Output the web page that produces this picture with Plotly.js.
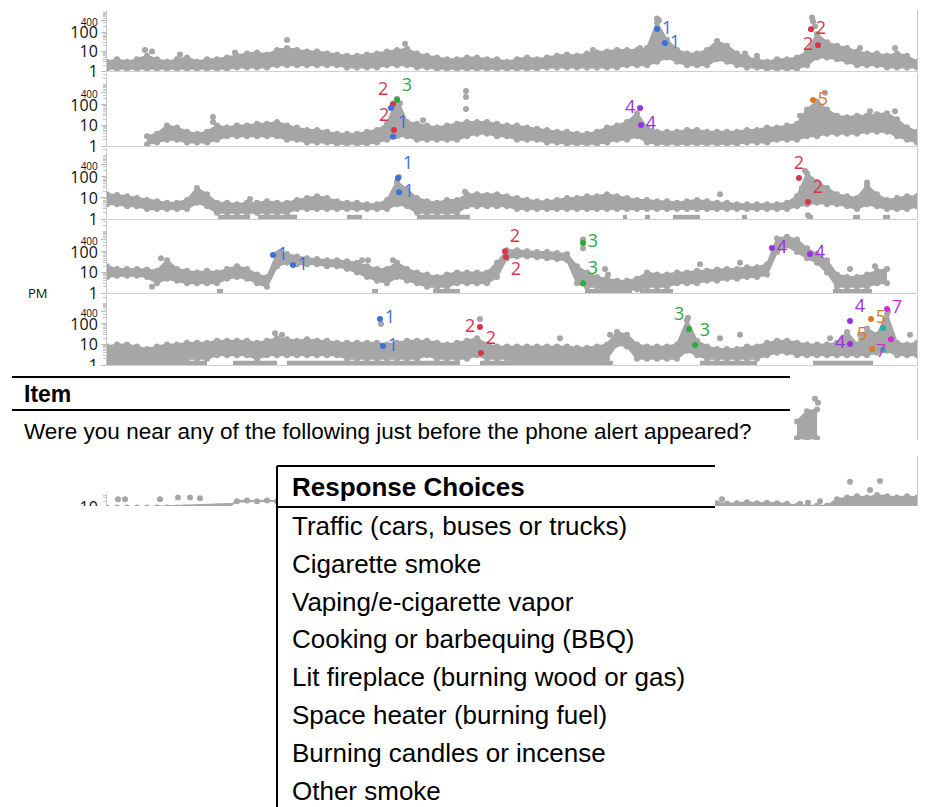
<!DOCTYPE html>
<html><head><meta charset="utf-8">
<script src="https://cdn.plot.ly/plotly-3.0.1.min.js"></script>
<style>html,body{margin:0;padding:0;background:#fff}#chart{width:927px;height:807px}</style>
</head><body><div id="chart"></div>
<script>
const N = null;
// ---- data: sample index = time step ----
const p1Hi = [3,4,3,4,6,4,3,4,5,3, 4,4,5,6,8,9,7,12,15,12, 10,10,8,7,6,6,7,8,10,12, 14,8,6,5,4,4,5,5,4,4, 3,4,5,4,5,6,7,6,8,9, 10,12,12,12,15,300,40,12,8,8, 12,35,20,8,5,4,3,4,4,5, 10,80,30,20,15,10,8,8,6,8, 6,3];
const p1Lo = [1.3,1.3,1.3,1.3,1.3,1.3,1.3,1.3,1.3,1.3, 1.3,1.3,1.3,1.5,1.5,1.5,1.5,2,2,2, 2,2,2,2,1.5,1.5,1.5,1.5,2,2, 2,1.5,1.5,1.3,1.3,1.3,1.3,1.3,1.3,1.3, 1.3,1.3,1.3,1.3,1.5,1.5,1.5,1.5,1.5,1.5, 1.5,1.5,2,2,2,3,5,3,2,2, 2,4,3,2,1.5,1.5,1.3,1.3,1.3,1.3, 2,5,5,4,3,2,2,2,1.5,1.5, 1.5,1.5];
const p2Hi = [N,N,N,N,3,4,10,8,5,4, 5,10,8,10,10,12,12,15,10,8, 6,6,5,4,4,4,5,6,12,200, 15,12,10,8,10,12,15,15,15,12, 10,10,8,7,6,5,5,4,4,5, 8,10,15,40,8,5,5,5,6,6, 5,5,5,5,6,6,8,8,10,12, 60,150,60,30,25,30,30,35,40,20, 8,5];
const p2Lo = [N,N,N,N,1.2,1.5,2,2,1.5,1.5, 1.5,2,3,3,3,3,3,3,2,2, 1.5,1.5,1.5,1.3,1.3,1.3,1.3,1.5,2,3, 3,2,2,2,2,2,3,4,4,3, 3,2,2,2,1.5,1.5,1.3,1.3,1.3,1.3, 1.5,2,2,3,1.5,1.3,1.3,1.3,1.3,1.3, 1.3,1.3,1.3,1.3,1.5,1.5,1.5,2,2,2, 3,3,4,4,4,4,5,5,5,3, 2,1.5];
const p3Hi = [15,14,12,10,8,7,6,6,8,30, 15,6,6,5,6,6,7,6,6,8, 10,12,10,7,6,6,5,5,8,60, 25,10,7,6,8,8,15,15,14,15, 12,10,8,7,7,8,10,10,12,12, 15,12,10,8,8,7,7,6,7,8, 7,6,6,5,5,5,5,5,6,12, 150,60,30,15,12,10,40,15,8,10, 12,12];
const p3Lo = [5,5,4,4,3,3,3,3,3,6, 4,2,2,2,2,2,2,2,2,3, 3,3,3,3,3,3,3,3,3,5, 4,2,2,2,2,2,4,4,4,4, 4,3,3,3,3,3,3,3,3,3, 3,3,3,3,3,3,3,3,3,3, 3,3,3,3,3,3,3,3,3,4, 5,6,5,5,4,3,5,4,3,3, 3,4];
const p4Hi = [20,15,15,15,14,12,40,15,12,10, 12,10,15,20,15,8,6,80,80,60, 50,45,40,40,35,30,20,15,15,30, 15,10,8,6,8,10,10,10,10,30, 120,120,110,100,100,90,80,20,10,6, 5,4,4,5,10,8,8,10,10,12, 12,14,15,15,18,18,25,450,550,400, 150,80,40,8,6,6,8,12,15,N, N,N];
const p4Lo = [6,7,7,7,6,3,5,4,3,3, 3,3,5,6,5,3,2,20,30,25, 25,25,20,20,15,10,6,4,3,6, 4,3,2,2,2,3,3,3,3,6, 50,60,60,55,50,45,40,3,2,2, 1.5,1.5,1.5,1.5,2,2,2,3,3,3, 4,4,5,5,6,6,8,100,200,100, 50,30,10,2,2,2,2,3,3,N, N,N];
const p5Hi = [8,10,10,8,6,8,10,10,12,12, 12,15,15,15,15,12,15,20,18,15, 18,15,15,12,12,12,12,12,10,12, 15,15,15,12,10,12,15,20,10,8, 8,8,8,8,8,8,8,7,7,8, 10,40,30,10,8,8,8,10,150,15, 8,6,6,6,8,8,12,15,15,12, 10,10,10,12,40,10,60,30,300,12, 10,12];
const p5Lo = [1.3,1.3,1.3,1.3,1.3,1.3,1.5,1.5,2,2, 2,3,3,3,3,2,3,3,3,3, 3,3,3,3,2,2,2,2,2,2, 2,2,3,2,2,2,2,3,2,2, 2,1.5,1.5,1.5,1.5,1.5,1.5,1.5,1.5,1.5, 2,10,8,2,2,2,2,2,5,3, 2,2,2,2,2,2,3,4,4,3, 3,3,3,3,3,3,3,4,5,3, 3,3];
const p6Hi = [N,N,N,N,N,N,N,N,N,N, N,N,N,N,N,N,N,N,N,N, N,N,N,N,N,N,N,N,N,N, N,N,N,N,N,N,N,N,N,N, N,N,N,N,N,N,N,N,N,N, N,N,N,N,N,N,N,N,N,N, N,N,N,N,N,N,N,N,N,8, 25,30,N,N,N,N,N,N,N,N, N,N];
const p6Lo = [N,N,N,N,N,N,N,N,N,N, N,N,N,N,N,N,N,N,N,N, N,N,N,N,N,N,N,N,N,N, N,N,N,N,N,N,N,N,N,N, N,N,N,N,N,N,N,N,N,N, N,N,N,N,N,N,N,N,N,N, N,N,N,N,N,N,N,N,N,1.2, 1.2,1.2,N,N,N,N,N,N,N,N, N,N];
const p7Hi = [10,10,10,10,10,10,10,10,10,10, 10,10,10,20,22,20,22,20,N,N, N,N,N,N,N,N,N,N,N,N, N,N,N,N,N,N,N,N,N,N, N,N,N,N,N,N,N,N,N,N, N,N,N,N,N,N,N,N,N,N, N,16,15,16,18,16,17,16,15,12, 12,12,12,25,30,35,30,40,35,30, 35,30];
const p7Lo = [3,3,3,3,3,3,3,3,3,3, 3,3,3,3,3,3,3,3,N,N, N,N,N,N,N,N,N,N,N,N, N,N,N,N,N,N,N,N,N,N, N,N,N,N,N,N,N,N,N,N, N,N,N,N,N,N,N,N,N,N, N,3,3,3,3,3,3,3,3,3, 3,3,3,3,3,3,3,3,3,3, 3,3];

// floor runs (start, end in time steps) at the detection floor
const floorLevel = 1.2;
const p3Floor = [[11.1,14.3],[15.1,19.0],[24.0,25.5],[31.0,36.3],[51.6,52.0],[53.8,54.3],[56.6,59.3],[63.5,64.0],[70.0,70.6],[74.6,75.3],[77.6,78.3]];
const p4Floor = [[11.0,11.6],[26.5,27.1],[32.6,35.3],[47.8,52.5],[53.3,56.6],[72.6,76.5]];
const p5Floor = [[0,10],[12.6,17],[18,35.3],[37.3,50.6],[59.3,65],[70.6,76.6]];

// isolated readings
const p1OutX = [18,3.8,4.5,29.8,48.6,53.3,63.8,65,75.3,78.8,12.8,7.3,55,55.2,70.5,70.6,70.8];
const p1OutY = [39,12,10,25,12,15,8,6,15,15,9,7,500,400,550,350,200];
const p2OutX = [10.6,10.6,35.9,35.9,35.9,71.8,70.1,69.3,31.6,78.8,76.3,29.3,29.1];
const p2OutY = [26,15,480,245,64,400,40,30,18,50,50,120,90];
const p3OutX = [70.1,69.5,14.3,61.3,76,35.8,29.2,69.8];
const p3OutY = [1.5,30,9,15,55,20,100,200];
const p4OutX = [5.4,17.3,25.5,26.1,28.6,49.8,50.1,47.6,47.6,59.3,63.3,4.5,74.3,76.8];
const p4OutY = [50,100,40,40,40,15,8,400,150,25,30,2,15,20];
const p5OutX = [16.8,17.5,27.4,37.3,45.3,50.3,58.1,63.3,61.3,80.3,75.3,72.3,78.1,77.8];
const p5OutY = [35,30,100,175,20,30,200,30,20,30,30,20,400,150];
const p6OutX = [70.8,71.1];
const p6OutY = [100,65];
const p7OutX = [74.3,77.3,76.3,1.1,1.8,5.3,7.1,8.3,9.3,60.8,61.5,69.3,70.1,71.3];
const p7OutY = [175,190,70,25,25,25,30,30,28,15,25,15,17,20];

// flagged readings with the reported source code
const p1FlagX = [55.0,55.8,70.4,71.1];
const p1FlagY = [142,27,140,21];
const p1FlagCode = ['1','1','2','2'];
const p1FlagPos = ['middle right','middle right','middle right','middle left'];
const p2FlagX = [28.6,28.4,29.0,28.7,28.6,53.3,53.4,70.6];
const p2FlagY = [112,72,175,6,2.8,71,10.6,175];
const p2FlagCode = ['2','1','3','2','1','4','4','5'];
const p2FlagLabel = ['2','','3','2','1','4','4','5'];
const p2FlagPos = ['top left','middle left','top right','top left','top right','middle left','middle right','middle right'];
const p3FlagX = [29.1,29.2,69.2,70.1];
const p3FlagY = [89,19,90,6.5];
const p3FlagCode = ['1','1','2','2'];
const p3FlagPos = ['top right','middle right','top center','top right'];
const p4FlagX = [16.6,18.6,39.8,39.9,47.6,47.6,66.5,70.3];
const p4FlagY = [71,23,110,57,275,3,155,80];
const p4FlagCode = ['1','1','2','2','3','3','4','4'];
const p4FlagPos = ['middle right','middle right','top right','bottom right','middle right','top right','middle right','middle right'];
const p5FlagX = [27.3,27.6,37.3,37.4,58.2,58.8,74.3,74.3,76.4,76.5,77.6,77.6,78.0,78.4];
const p5FlagY = [175,8.4,70,3.8,57,9.5,140,10.6,175,6,64,5.4,540,18];
const p5FlagCode = ['1','1','2','2','3','3','4','4','5','5','6','6','7','7'];
const p5FlagLabel = ['1','1','2','2','3','3','4','4','5','5','','','7','7'];
const p5FlagPos = ['middle right','middle right','middle left','top right','top left','top right','top right','middle left','middle right','top left','middle right','middle right','middle right','bottom left'];

const tickVals = [1,10,100,400];
const tickText = ['1','10','100','<span style="font-size:10px">400</span>'];
const yLabel = 'PM';
const itemHeader = 'Item';
const itemText = 'Were you near any of the following just before the phone alert appeared?';
const responseHeader = 'Response Choices';
const responseChoices = ['Traffic (cars, buses or trucks)','Cigarette smoke','Vaping/e-cigarette vapor','Cooking or barbequing (BBQ)','Lit fireplace (burning wood or gas)','Space heater (burning fuel)','Burning candles or incense','Other smoke'];

// ---- styling ----
const codeColor = {'1':'#3b6fdc','2':'#d8354c','3':'#2eaa3a','4':'#9b30e0','5':'#d97a20','6':'#1fb39c','7':'#d22bd2'};
const GRAY = '#a6a6a6';
const FONT = '"Open Sans", "Noto Sans", sans-serif';
const SANS = '"Liberation Sans", Arial, sans-serif';
const W = 927, H = 807;
const panelTop = [10,73,148,221,295,368,456];
const panelBot = [71,146,219,293,365,440,528];
const panelRange = [3.13,3.56,3.38,3.51,3.41,3.5,3.5];

const panels = [
  {hi:p1Hi, lo:p1Lo, floor:[], ox:p1OutX, oy:p1OutY, fx:p1FlagX, fy:p1FlagY, fc:p1FlagCode, fl:p1FlagCode, fp:p1FlagPos},
  {hi:p2Hi, lo:p2Lo, floor:[], ox:p2OutX, oy:p2OutY, fx:p2FlagX, fy:p2FlagY, fc:p2FlagCode, fl:p2FlagLabel, fp:p2FlagPos},
  {hi:p3Hi, lo:p3Lo, floor:p3Floor, ox:p3OutX, oy:p3OutY, fx:p3FlagX, fy:p3FlagY, fc:p3FlagCode, fl:p3FlagCode, fp:p3FlagPos},
  {hi:p4Hi, lo:p4Lo, floor:p4Floor, ox:p4OutX, oy:p4OutY, fx:p4FlagX, fy:p4FlagY, fc:p4FlagCode, fl:p4FlagCode, fp:p4FlagPos},
  {hi:p5Hi, lo:p5Lo, floor:p5Floor, ox:p5OutX, oy:p5OutY, fx:p5FlagX, fy:p5FlagY, fc:p5FlagCode, fl:p5FlagLabel, fp:p5FlagPos},
  {hi:p6Hi, lo:p6Lo, floor:[], ox:p6OutX, oy:p6OutY, fx:[], fy:[], fc:[], fl:[], fp:[]},
  {hi:p7Hi, lo:p7Lo, floor:[], ox:p7OutX, oy:p7OutY, fx:[], fy:[], fc:[], fl:[], fp:[]}
];

const steps = p1Hi.map((_, i) => i);
const traces = [];
const layout = {
  width: W, height: H, margin: {l:0, r:0, t:0, b:0},
  paper_bgcolor: '#fff', plot_bgcolor: '#fff', showlegend: false,
  font: {family: FONT, color: '#111'},
  shapes: [], annotations: []
};

panels.forEach((p, k) => {
  const s = k === 0 ? '' : String(k + 1);
  const xa = 'x' + s, ya = 'y' + s;
  const fxs = [], fys = [];
  p.floor.forEach(r => { fxs.push(r[0], r[1], null); fys.push(floorLevel, floorLevel, null); });
  traces.push({type:'scatter', mode:'lines', x:fxs, y:fys, xaxis:xa, yaxis:ya, line:{color:GRAY, width:5}, hoverinfo:'skip'});
  traces.push({type:'scatter', mode:'lines+markers', x:steps, y:p.hi, xaxis:xa, yaxis:ya, line:{color:GRAY, width:2}, marker:{color:GRAY, size:6}, hoverinfo:'skip'});
  traces.push({type:'scatter', mode:'lines+markers', x:steps, y:p.lo, xaxis:xa, yaxis:ya, line:{color:GRAY, width:2}, marker:{color:GRAY, size:6}, fill:'tonexty', fillcolor:GRAY, hoverinfo:'skip'});
  traces.push({type:'scatter', mode:'markers', x:p.ox, y:p.oy, xaxis:xa, yaxis:ya, marker:{color:GRAY, size:6}, hoverinfo:'skip'});
  traces.push({type:'scatter', mode:'markers+text', x:p.fx, y:p.fy, text:p.fl, textposition:p.fp,
    xaxis:xa, yaxis:ya, marker:{color:p.fc.map(c => codeColor[c]), size:6},
    textfont:{family:FONT, size:18, color:p.fc.map(c => codeColor[c])}, hoverinfo:'skip'});

  layout['xaxis' + s] = {domain:[107/W, 917/W], range:[0,81], anchor:ya, showline:k < 5, linecolor:'#d0d0d0', linewidth:1,
    showticklabels:false, ticks:'', showgrid:false, zeroline:false};
  layout['yaxis' + s] = {domain:[1 - panelBot[k]/H, 1 - panelTop[k]/H], type:'log', range:[0, panelRange[k]], anchor:xa,
    tickmode:'array', tickvals:tickVals, ticktext:tickText, ticks:'outside', ticklen:5, tickcolor:'#bdbdbd',
    showline:true, linecolor:'#c8c8c8', linewidth:1, mirror:true, showgrid:false, zeroline:false,
    tickfont:{family:FONT, size:16, color:'#111'},
    minor:{dtick:'D1', ticks:'outside', ticklen:3, tickcolor:'#c8c8c8', showgrid:false}};
});

const px = x => x / W, py = y => 1 - y / H;
function rect(x0, y0, x1, y1) { return {type:'rect', xref:'paper', yref:'paper', x0:px(x0), x1:px(x1), y0:py(y0), y1:py(y1), fillcolor:'#fff', line:{width:0}, layer:'above'}; }
function seg(x0, y0, x1, y1) { return {type:'line', xref:'paper', yref:'paper', x0:px(x0), x1:px(x1), y0:py(y0), y1:py(y1), line:{color:'#000', width:2}, layer:'above'}; }
layout.shapes.push(rect(0,366,791,494), rect(0,506,W,H), rect(277,466,715,H));
layout.shapes.push(seg(12,377,790,377), seg(12,410,790,410), seg(277,466,715,466), seg(277,507,715,507), seg(277,466,277,H));

function txt(t, x, y, size, opts) {
  return Object.assign({text:t, xref:'paper', yref:'paper', x:px(x), y:py(y), xanchor:'left', yanchor:'middle', showarrow:false,
    font:{family:SANS, size:size, color:'#000'}}, opts || {});
}
layout.annotations.push(txt(yLabel, 38, 293, 13, {xanchor:'center', font:{family:FONT, size:13, color:'#111'}}));
layout.annotations.push(txt('<b>' + itemHeader + '</b>', 22, 394, 23));
layout.annotations.push(txt(itemText, 22, 432, 22.5));
layout.annotations.push(txt('<b>' + responseHeader + '</b>', 290, 487, 26));
responseChoices.forEach((c, i) => layout.annotations.push(txt(c, 290, 526 + i * 37.8, 26)));

Plotly.newPlot('chart', traces, layout, {staticPlot:true, displayModeBar:false});
</script>
</body></html>
